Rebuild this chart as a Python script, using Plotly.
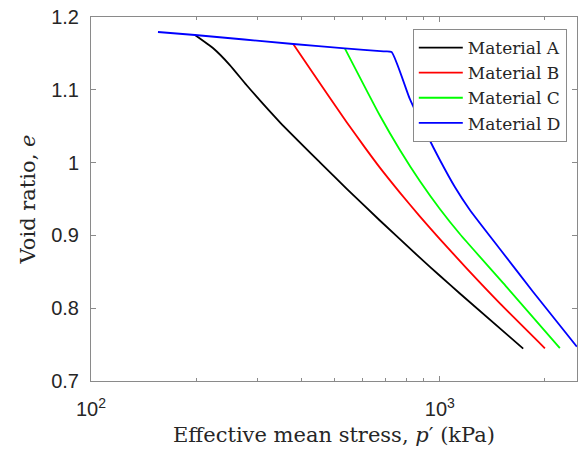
import plotly.graph_objects as go

# Compression curves: effective mean stress p' (kPa) vs void ratio e
p_a = [198.6, 224, 250, 279, 348, 453, 540, 673, 876, 1000, 1141, 1733]
e_a = [1.1753, 1.157, 1.134, 1.1066, 1.0554, 1.0004, 0.9644, 0.9205, 0.8694, 0.8446, 0.8202, 0.7445]

p_b = [379.8, 433.5, 540, 610, 673, 768, 876, 1000, 1193, 1486, 2000]
e_b = [1.1629, 1.1223, 1.0558, 1.0206, 0.9931, 0.9588, 0.9261, 0.895, 0.8547, 0.8066, 0.7449]

p_c = [534, 673, 768, 876, 1000, 1141, 1552, 2207]
e_c = [1.157, 1.0647, 1.0173, 0.9747, 0.9363, 0.9019, 0.8294, 0.7452]

p_d = [155.6, 198.6, 379.8, 534, 690, 727, 820, 916, 1000, 1104, 1219, 1486, 1851, 2470]
e_d = [1.1794, 1.1753, 1.1629, 1.157, 1.1527, 1.1519, 1.0874, 1.0393, 1.0036, 0.9665, 0.9349, 0.8813, 0.8223, 0.7471]

names = ["Material A", "Material B", "Material C", "Material D"]
colors = ["#000000", "#ff0000", "#00ff00", "#0000ff"]
series = [(p_a, e_a), (p_b, e_b), (p_c, e_c), (p_d, e_d)]

x_major = [100, 1000]
x_major_text = ["10<sup>2</sup>", "10<sup>3</sup>"]
x_minor = [200, 300, 400, 500, 600, 700, 800, 900, 2000]

axis_grey = "#8a8a8a"
label_col = "#262626"
serif = "DejaVu Serif"
sans = "Liberation Sans"

fig = go.Figure()
for (p, e), name, col in zip(series, names, colors):
    fig.add_trace(go.Scatter(
        x=p, y=e, mode="lines", name=name,
        line=dict(color=col, width=1.8, shape="spline", smoothing=0.5),
    ))

fig.update_layout(
    width=582, height=453,
    margin=dict(l=91, r=5, t=17, b=72),
    plot_bgcolor="white", paper_bgcolor="white",
    showlegend=True,
    legend=dict(
        x=0.979, y=0.967, xanchor="right", yanchor="top",
        bgcolor="white", bordercolor=axis_grey, borderwidth=1,
        font=dict(family=serif, size=17, color=label_col),
        tracegroupgap=0, itemwidth=44,
    ),
)

fig.update_xaxes(
    type="log", range=[2, 3.393],
    showline=True, linecolor=axis_grey, linewidth=1, mirror="ticks",
    ticks="inside", ticklen=5, tickcolor=axis_grey,
    tickvals=x_major, ticktext=x_major_text,
    minor=dict(ticks="inside", ticklen=3, tickcolor=axis_grey, tickvals=x_minor, showgrid=False),
    showgrid=False, zeroline=False,
    tickfont=dict(family=sans, size=20, color=label_col),
    ticklabelstandoff=10,
    title=dict(text="Effective mean stress, <i>p</i>′ (kPa)",
               font=dict(family=serif, size=21, color=label_col), standoff=8),
)

fig.update_yaxes(
    range=[0.7, 1.2], dtick=0.1, tick0=0.7,
    showline=True, linecolor=axis_grey, linewidth=1, mirror="ticks",
    ticks="inside", ticklen=5, tickcolor=axis_grey,
    showgrid=False, zeroline=False,
    tickfont=dict(family=sans, size=20, color=label_col),
    ticklabelstandoff=7,
    title=dict(text="Void ratio, <i>e</i>",
               font=dict(family=serif, size=21, color=label_col), standoff=9),
)

fig.write_html("out.html")
